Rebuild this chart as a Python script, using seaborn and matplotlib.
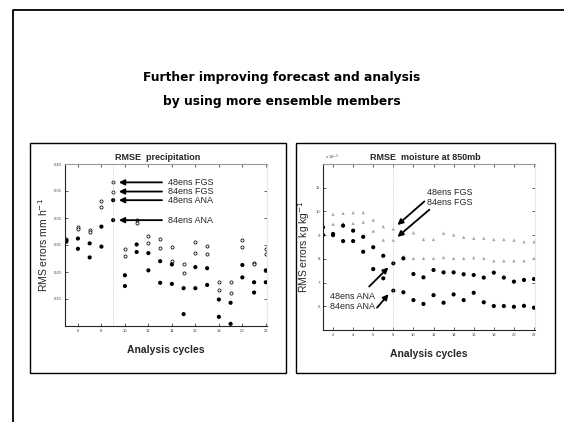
import matplotlib
matplotlib.use("Agg")
import matplotlib.pyplot as plt
from matplotlib.patches import Rectangle
from matplotlib.lines import Line2D
import pandas as pd
import seaborn as sns

# precipitation RMSE (mm/h), cycles 5..22
prec_x = list(range(5, 23))
prec_fgs48 = [0.262, 0.283, 0.278, 0.332, 0.366, 0.243, 0.296, 0.267, 0.261, 0.246,
              0.215, 0.255, 0.249, 0.181, 0.182, 0.259, 0.217, 0.243]
prec_fgs84 = [0.260, 0.279, 0.274, 0.320, 0.349, 0.230, 0.291, 0.254, 0.244, 0.221,
              0.199, 0.236, 0.234, 0.167, 0.162, 0.246, 0.214, 0.233]
prec_ana48 = [0.258, 0.262, 0.253, 0.284, 0.333, 0.194, 0.251, 0.235, 0.220, 0.214,
              0.170, 0.209, 0.207, 0.149, 0.143, 0.213, 0.181, 0.203]
prec_ana84 = [0.256, 0.243, 0.227, 0.247, 0.296, 0.174, 0.237, 0.203, 0.180, 0.178,
              0.122, 0.170, 0.176, 0.117, 0.104, 0.190, 0.162, 0.181]

# moisture RMSE at 850mb (x 1e-3 kg/kg), cycles 1..22
moist_x = list(range(1, 23))
moist_fgs48 = [9.92, 9.88, 9.92, 9.95, 9.95, 9.64, 9.36, 9.26, 9.12, 9.10, 8.82,
               8.82, 9.08, 9.01, 8.91, 8.87, 8.87, 8.82, 8.82, 8.79, 8.72, 8.72]
moist_fgs84 = [9.62, 9.46, 9.50, 9.50, 9.55, 9.17, 8.79, 8.79, 8.10, 8.02, 8.02,
               8.02, 8.06, 8.02, 8.02, 8.05, 8.02, 7.92, 7.92, 7.92, 7.92, 8.02]
moist_ana48 = [9.33, 9.05, 9.40, 9.19, 8.93, 8.49, 8.13, 7.81, 8.02, 7.36, 7.22,
               7.53, 7.43, 7.43, 7.35, 7.32, 7.21, 7.42, 7.21, 7.04, 7.11, 7.15]
moist_ana84 = [9.01, 9.00, 8.75, 8.75, 8.30, 7.57, 7.18, 6.66, 6.59, 6.26, 6.10,
               6.47, 6.15, 6.50, 6.26, 6.57, 6.17, 6.01, 6.01, 5.98, 6.02, 5.94]

labels = ["48ens FGS", "84ens FGS", "48ens ANA", "84ens ANA"]

sns.set_style("ticks")
plt.rcParams['font.family'] = ['Liberation Sans', 'DejaVu Sans']

W, H = 564, 422
fig = plt.figure(figsize=(W / 100, H / 100), dpi=100)
fig.patch.set_facecolor("white")


def fx(px):
    return px / W


def fy(py):
    return 1 - py / H


# slide frame
fig.add_artist(Line2D([fx(13), fx(13), fx(564)], [fy(422), fy(10), fy(10)],
                      transform=fig.transFigure, color="black", lw=1.3))

fig.text(fx(282), fy(77), "Further improving forecast and analysis", ha="center", va="center",
         fontsize=8.8, fontweight="bold", family="DejaVu Sans", color="black")
fig.text(fx(282), fy(102), "by using more ensemble members", ha="center", va="center",
         fontsize=8.8, fontweight="bold", family="DejaVu Sans", color="black")

# panel boxes
for x0, x1 in [(30, 286), (296, 555)]:
    fig.add_artist(Rectangle((fx(x0), fy(373)), fx(x1 - x0), (373 - 143) / H,
                             transform=fig.transFigure, fill=False, lw=1.0, ec="black"))
fig.text(fx(158), fy(157), "RMSE  precipitation", ha="center", va="center",
         fontsize=6.5, fontweight="bold")
fig.text(fx(425), fy(157), "RMSE  moisture at 850mb", ha="center", va="center",
         fontsize=6.5, fontweight="bold")


def draw(ax, x, series, open_fgs):
    for i, (lab, vals) in enumerate(zip(labels, series)):
        d = pd.DataFrame({"cycle": x, "rmse": vals})
        if i < 2:
            if open_fgs:
                sns.scatterplot(data=d, x="cycle", y="rmse", ax=ax, marker="o", s=5,
                                facecolor="white", edgecolor="black", linewidth=0.55)
            else:
                sns.scatterplot(data=d, x="cycle", y="rmse", ax=ax, marker="^", s=6,
                                color="#a8a8a8", edgecolor="none")
        else:
            sns.scatterplot(data=d, x="cycle", y="rmse", ax=ax, marker="o", s=9,
                            color="black", edgecolor="none")
    for side in ["top", "right"]:
        ax.spines[side].set_visible(True)
    ax.spines["top"].set_color("#9a9a9a")
    ax.spines["right"].set_color("#e6e6e6")
    ax.spines["left"].set_linewidth(0.8)
    ax.spines["bottom"].set_linewidth(0.8)
    ax.tick_params(direction="in", length=2, width=0.6, labelsize=3, pad=2,
                   top=True, right=True, colors="#444444")
    ax.set_xlabel("Analysis cycles", fontsize=7.5, fontweight="bold", labelpad=9)


# left panel
ax1 = fig.add_axes([fx(65), fy(326), fx(202), 162 / H])
draw(ax1, prec_x, [prec_fgs48, prec_fgs84, prec_ana48, prec_ana84], True)
ax1.set_xlim(4.9, 22.1)
ax1.set_ylim(0.1, 0.4)
ax1.set_xticks(range(6, 23, 2))
ax1.set_yticks([0.15, 0.2, 0.25, 0.3, 0.35, 0.4])
ax1.set_ylabel("RMS errors mm h$^{-1}$", fontsize=7.5, labelpad=3)
ax1.axvline(9, color="#bbbbbb", lw=0.6, ls=":")
ref = [prec_fgs48[4], prec_fgs84[4], prec_ana48[4], prec_ana84[4]]
for lab, yv in zip(labels, ref):
    ax1.annotate("", xy=(9.25, yv), xytext=(13.4, yv),
                 arrowprops=dict(arrowstyle="-|>", color="black", lw=1.3,
                                 mutation_scale=8))
    ax1.text(13.7, yv, lab, fontsize=6.5, va="center", ha="left")

# right panel
ax2 = fig.add_axes([fx(323), fy(330), fx(212), 166 / H])
draw(ax2, moist_x, [moist_fgs48, moist_fgs84, moist_ana48, moist_ana84], False)
ax2.set_xlim(1, 22.1)
ax2.set_ylim(5, 12)
ax2.set_xticks(range(2, 23, 2))
ax2.set_yticks(range(6, 12))
ax2.set_ylabel("RMS errors kg kg$^{-1}$", fontsize=7.5, labelpad=3)
ax2.text(1.2, 12.1, "x 10$^{-3}$", fontsize=3, va="bottom", color="#444444")
ax2.axvline(8, color="#bbbbbb", lw=0.6, ls=":")
ax2.text(11.4, 10.78, "48ens FGS", fontsize=6.5, va="center")
ax2.text(11.4, 10.36, "84ens FGS", fontsize=6.5, va="center")
arrow = dict(arrowstyle="-|>", color="black", lw=1.3, mutation_scale=8)
ax2.annotate("", xy=(8.2, 9.35), xytext=(11.3, 10.5), arrowprops=arrow)
ax2.annotate("", xy=(8.2, 8.85), xytext=(11.8, 10.15), arrowprops=arrow)
ax2.text(1.7, 6.40, "48ens ANA", fontsize=6.5, va="center")
ax2.text(1.7, 5.98, "84ens ANA", fontsize=6.5, va="center")
ax2.annotate("", xy=(7.7, 7.72), xytext=(5.4, 6.75), arrowprops=arrow)
ax2.annotate("", xy=(7.7, 6.6), xytext=(6.2, 5.85), arrowprops=arrow)

fig.savefig("out.png", dpi=100)
